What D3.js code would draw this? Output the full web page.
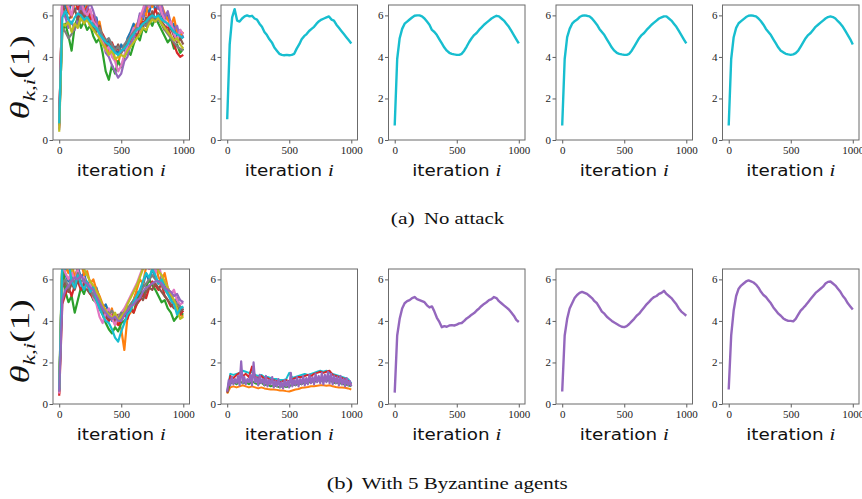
<!DOCTYPE html>
<html>
<head>
<meta charset="utf-8">
<script src="https://cdn.jsdelivr.net/npm/d3@7"></script>
<style>
body { margin: 0; background: #fff; }
svg { display: block; }
</style>
</head>
<body>
<div></div>
<script>
const WIDTH = 862;
const HEIGHT = 499;
const PANEL_LEFTS = [53, 221, 388.5, 556, 722.5];
const ROW_TOPS = [5, 269];
const PANEL_W = 136.5;
const PANEL_H = 135;
const X_DOMAIN = [-50, 1050];
const Y_DOMAIN = [0, 6.5];
const X_TICKS = [0, 500, 1000];
const Y_TICKS = [0, 2, 4, 6];
const CAPTIONS = [['(a)', 'No attack'], ['(b)', 'With 5 Byzantine agents']];
const COLORS = d3.schemeCategory10;

// iteration grids the values were read at
const iterFine = d3.range(0, 1001, 20);     // smooth panels
const iterCoarse = d3.range(0, 1001, 25);   // noisy panels
const iterDense = d3.range(0, 1001, 12.5);  // byzantine band

// (a) no attack, panel 1: ten agents, noisy
const a1Agents = [
  [0.8, 6.9, 6.4, 6.1, 6.7, 6.2, 6.5, 6.0, 6.6, 5.8,  6.2, 5.6, 5.9, 5.2, 5.0, 4.6, 4.8, 4.3, 4.5, 4.1,
   4.6, 4.3, 4.9, 5.2, 5.6, 5.3, 6.0, 5.8, 6.4, 6.1,  6.8, 6.2, 6.6, 6.0, 5.7, 6.1, 5.4, 5.6, 5.0, 5.3, 4.9],
  [0.6, 7.0, 6.8, 6.2, 5.9, 6.6, 6.9, 6.3, 6.2, 6.5,  5.9, 6.0, 5.4, 5.7, 4.9, 4.5, 4.2, 4.6, 3.9, 3.7,
   4.3, 4.4, 4.8, 4.6, 5.3, 5.6, 5.4, 6.2, 6.0, 6.8,  6.4, 6.9, 6.3, 6.5, 6.1, 5.8, 5.5, 5.9, 5.2, 5.0, 5.2],
  [0.9, 5.2, 5.6, 5.0, 4.3, 5.5, 5.9, 5.4, 5.7, 5.3,  5.5, 5.0, 4.7, 4.9, 4.2, 3.3, 2.9, 3.6, 3.2, 3.8,
   3.5, 4.0, 4.3, 4.1, 4.6, 5.0, 4.8, 5.4, 5.2, 5.8,  5.5, 5.9, 5.6, 5.3, 5.0, 4.7, 4.9, 4.4, 4.6, 4.2, 4.4],
  [0.7, 7.0, 6.6, 6.9, 6.5, 6.8, 6.3, 6.7, 6.1, 6.4,  5.8, 6.0, 5.6, 5.3, 5.1, 4.8, 4.5, 4.7, 4.3, 4.4,
   4.2, 4.5, 4.4, 4.9, 5.1, 5.0, 5.4, 5.7, 5.5, 6.1,  5.9, 6.3, 5.9, 5.6, 5.3, 5.5, 5.0, 4.6, 4.2, 4.0, 4.1],
  [0.5, 6.2, 5.9, 5.4, 5.7, 5.3, 5.8, 6.5, 6.0, 6.3,  6.6, 6.2, 5.7, 5.1, 4.8, 4.2, 4.0, 3.6, 3.3, 3.0,
   3.2, 3.8, 4.0, 4.6, 4.9, 5.4, 6.1, 5.9, 6.6, 6.4,  6.9, 6.7, 6.3, 6.5, 5.9, 6.2, 5.6, 5.3, 5.5, 4.9, 5.0],
  [0.8, 6.6, 6.1, 5.8, 6.0, 6.3, 5.8, 6.2, 5.9, 6.1,  5.6, 5.4, 5.2, 5.5, 4.9, 4.7, 4.4, 4.5, 4.3, 4.6,
   4.2, 4.5, 4.7, 4.9, 5.3, 5.1, 5.6, 5.4, 5.9, 5.6,  6.2, 5.8, 6.1, 5.7, 5.5, 5.2, 5.4, 5.0, 4.7, 4.9, 4.6],
  [0.6, 7.0, 6.9, 6.4, 6.0, 6.9, 6.5, 6.8, 6.2, 6.0,  6.3, 5.7, 5.5, 5.0, 4.7, 4.3, 4.5, 4.0, 3.8, 3.3,
   3.6, 4.1, 4.5, 5.0, 5.4, 5.2, 5.9, 6.3, 6.8, 6.4,  6.9, 6.5, 6.8, 6.1, 5.8, 5.5, 5.7, 5.1, 4.8, 5.3, 5.1],
  [0.7, 5.4, 5.2, 4.9, 5.1, 5.4, 5.6, 5.8, 5.7, 5.9,  5.5, 5.6, 5.3, 5.4, 5.0, 4.8, 4.9, 4.6, 4.3, 4.5,
   4.2, 4.6, 4.8, 5.0, 5.2, 5.4, 5.3, 5.6, 5.5, 5.8,  5.9, 5.7, 5.8, 5.6, 5.3, 5.1, 4.9, 4.7, 4.5, 4.4, 4.3],
  [0.4, 5.6, 5.5, 5.7, 5.2, 5.6, 5.4, 5.9, 5.6, 5.8,  5.5, 5.3, 5.1, 4.9, 4.6, 4.4, 4.1, 4.3, 3.9, 4.0,
   4.1, 4.0, 4.3, 4.5, 4.7, 4.9, 5.1, 5.4, 5.3, 5.6,  5.8, 5.7, 5.9, 5.6, 5.4, 5.2, 5.0, 4.8, 4.9, 4.6, 4.4],
  [0.8, 5.9, 6.2, 5.8, 5.6, 5.9, 6.1, 6.0, 5.8, 5.9,  5.7, 5.5, 5.4, 5.1, 4.9, 4.7, 4.6, 4.4, 4.2, 4.1,
   4.3, 4.4, 4.6, 4.9, 5.1, 5.3, 5.4, 5.6, 5.7, 5.9,  6.0, 5.9, 6.0, 5.8, 5.7, 5.6, 5.4, 5.2, 5.1, 5.0, 4.9]
];

// (a) panels 2-5: agents agree, one visible trajectory each
const a2Consensus = [1.0, 4.6, 5.9, 6.3, 5.75, 5.7, 5.85, 5.95, 6.0, 5.95,  5.98, 5.85, 5.8, 5.6, 5.45, 5.2, 5.05, 4.85, 4.7, 4.45,
  4.3, 4.15, 4.1, 4.08, 4.1, 4.08, 4.1, 4.15, 4.4, 4.6,  4.85, 5.0, 5.1, 5.25, 5.35, 5.45, 5.6, 5.72, 5.8, 5.85,
  5.9, 5.95, 5.8, 5.75, 5.55, 5.4, 5.25, 5.1, 4.95, 4.8,  4.65];
const a3Consensus = [0.7, 3.9, 4.9, 5.35, 5.6, 5.7, 5.8, 5.9, 5.98, 6.0,  6.0, 5.95, 5.85, 5.7, 5.55, 5.3, 5.2, 5.05, 4.85, 4.65,
  4.45, 4.3, 4.2, 4.15, 4.12, 4.1, 4.1, 4.15, 4.3, 4.5,  4.72, 4.9, 5.05, 5.15, 5.3, 5.42, 5.55, 5.65, 5.75, 5.85,
  5.92, 5.98, 5.95, 5.85, 5.75, 5.6, 5.45, 5.25, 5.05, 4.85,  4.65];
const a4Consensus = [0.7, 3.9, 4.95, 5.35, 5.6, 5.72, 5.8, 5.92, 5.98, 6.0,  5.98, 5.95, 5.85, 5.7, 5.55, 5.35, 5.2, 5.05, 4.85, 4.65,
  4.45, 4.3, 4.2, 4.15, 4.12, 4.1, 4.1, 4.15, 4.3, 4.5,  4.7, 4.9, 5.05, 5.15, 5.3, 5.42, 5.55, 5.65, 5.75, 5.85,
  5.9, 5.95, 5.95, 5.85, 5.75, 5.6, 5.45, 5.25, 5.05, 4.85,  4.65];
const a5Consensus = [0.7, 3.9, 4.95, 5.4, 5.62, 5.72, 5.82, 5.92, 5.98, 6.0,  5.98, 5.95, 5.85, 5.72, 5.55, 5.35, 5.2, 5.05, 4.85, 4.65,
  4.45, 4.3, 4.22, 4.15, 4.12, 4.1, 4.12, 4.18, 4.3, 4.5,  4.7, 4.9, 5.05, 5.15, 5.3, 5.45, 5.55, 5.65, 5.75, 5.85,
  5.92, 5.95, 5.92, 5.85, 5.72, 5.6, 5.45, 5.25, 5.05, 4.85,  4.6];

// (b) with byzantine agents, panel 1: ten agents, noisy
const b1Agents = [
  [0.6, 6.8, 6.2, 5.9, 6.4, 6.0, 6.6, 6.1, 6.3, 5.7,  5.9, 5.4, 5.6, 5.1, 4.6, 4.8, 4.4, 4.0, 4.3, 3.9,
   4.1, 4.5, 4.3, 4.8, 5.0, 5.4, 5.2, 5.7, 6.3, 5.9,  6.5, 6.1, 5.8, 6.2, 5.7, 5.5, 5.0, 4.8, 5.1, 4.6, 4.5],
  [0.5, 6.9, 6.6, 6.3, 6.8, 6.1, 6.5, 6.9, 6.2, 6.4,  5.8, 6.0, 5.5, 5.2, 4.8, 4.5, 4.2, 4.6, 3.8, 4.0,
   3.6, 2.6, 4.2, 4.4, 5.0, 5.5, 6.0, 5.8, 6.6, 6.9,  6.4, 6.8, 6.1, 5.9, 6.3, 5.6, 5.2, 5.0, 4.6, 4.3, 4.2],
  [0.9, 6.9, 5.4, 4.9, 5.2, 4.4, 5.0, 5.6, 5.3, 5.8,  5.4, 5.0, 4.9, 4.6, 4.3, 3.9, 3.6, 3.4, 3.7, 3.5,
   3.9, 4.0, 4.2, 4.6, 4.4, 5.0, 5.4, 5.2, 5.6, 6.0,  5.7, 5.5, 5.2, 4.9, 5.0, 4.6, 4.4, 4.0, 4.2, 4.4, 4.3],
  [0.4, 4.8, 5.3, 5.6, 5.2, 5.7, 5.9, 5.5, 5.8, 5.6,  5.3, 5.1, 4.9, 4.6, 4.4, 4.2, 4.0, 4.3, 4.1, 3.8,
   4.0, 4.3, 4.1, 4.6, 4.4, 4.8, 5.0, 5.3, 5.1, 5.6,  5.9, 5.7, 5.5, 5.8, 5.2, 5.0, 4.7, 4.9, 4.5, 4.3, 4.5],
  [0.6, 5.0, 5.5, 5.7, 5.9, 6.1, 6.0, 6.2, 5.9, 5.8,  5.6, 5.5, 5.2, 4.9, 4.6, 4.4, 4.2, 4.1, 4.2, 4.0,
   4.0, 4.3, 4.5, 4.7, 4.8, 5.0, 5.1, 5.4, 5.6, 5.7,  5.8, 5.9, 5.9, 5.8, 5.6, 5.5, 5.4, 5.2, 5.3, 5.0, 4.9],
  [0.7, 5.6, 5.9, 5.4, 5.8, 5.5, 6.0, 5.7, 5.9, 5.5,  5.3, 5.4, 5.0, 4.8, 4.5, 4.3, 4.1, 4.2, 4.0, 4.3,
   4.2, 4.5, 4.7, 4.6, 4.9, 4.8, 5.2, 5.0, 5.4, 5.6,  5.5, 5.8, 5.6, 5.4, 5.2, 5.0, 4.8, 4.6, 4.7, 4.4, 4.6],
  [0.5, 6.7, 6.3, 6.0, 6.4, 5.9, 6.5, 5.7, 6.1, 5.6,  5.8, 5.1, 4.8, 4.2, 3.9, 4.4, 4.6, 4.1, 3.8, 4.2,
   4.4, 4.6, 4.9, 5.2, 5.5, 5.8, 6.2, 6.6, 6.9, 6.5,  6.7, 6.3, 6.8, 6.1, 5.9, 5.6, 5.3, 5.5, 5.0, 4.8, 4.9],
  [0.6, 5.8, 6.0, 5.6, 6.1, 5.8, 6.3, 5.9, 6.0, 5.7,  5.5, 5.2, 5.0, 4.7, 4.5, 4.4, 4.3, 4.5, 4.2, 4.1,
   4.4, 4.3, 4.6, 4.8, 5.0, 5.2, 5.4, 5.6, 5.8, 6.0,  6.2, 6.0, 5.9, 5.7, 5.5, 5.3, 5.1, 5.0, 4.8, 4.7, 4.6],
  [0.8, 7.0, 6.7, 6.9, 6.4, 6.8, 6.6, 7.0, 6.5, 6.2,  5.9, 5.7, 5.4, 5.1, 4.7, 4.5, 4.3, 4.1, 4.4, 4.0,
   4.2, 4.4, 4.8, 5.1, 5.4, 5.7, 6.1, 6.5, 6.9, 6.6,  7.0, 6.8, 6.4, 6.2, 5.9, 5.6, 5.3, 5.0, 4.6, 4.1, 4.2],
  [0.7, 6.8, 6.5, 6.9, 5.9, 5.6, 6.2, 5.8, 5.5, 5.9,  5.4, 5.6, 5.0, 4.6, 4.3, 4.0, 3.9, 3.6, 3.2, 3.0,
   3.5, 3.9, 4.3, 4.5, 4.9, 5.2, 5.5, 5.9, 6.3, 6.1,  6.5, 6.2, 5.8, 6.0, 5.6, 5.3, 5.0, 4.8, 4.3, 4.6, 4.7]
];

// (b) panel 2: agents pulled down to a band near 1
const b2Orange = [0.5, 0.8, 0.85, 0.8, 0.85, 0.9, 0.85, 0.8, 0.85, 0.8,  0.75, 0.8, 0.75, 0.72, 0.7, 0.7, 0.68, 0.65, 0.65, 0.62,
  0.6, 0.65, 0.7, 0.72, 0.78, 0.8, 0.82, 0.85, 0.85, 0.88,  0.9, 0.9, 0.88, 0.9, 0.85, 0.82, 0.8, 0.8, 0.78, 0.75, 0.7];
const b2Green = [0.55, 1.0, 1.05, 0.95, 1.1, 1.0, 1.05, 0.95, 1.1, 1.0,  0.95, 1.05, 0.9, 0.95, 0.85, 0.9, 0.85, 0.8, 0.88, 0.82,
  0.85, 0.95, 0.9, 1.0, 0.95, 1.05, 1.0, 1.1, 1.05, 1.15,  1.1, 1.15, 1.1, 1.15, 1.05, 1.0, 1.05, 0.95, 0.95, 0.9, 0.85];
const b2Cyan = [0.6, 1.45, 1.4, 1.45, 1.5, 1.6, 1.55, 1.5, 1.55, 1.4,  1.35, 1.4, 1.3, 1.3, 1.25, 1.2, 1.2, 1.15, 1.15, 1.2,
  1.5, 1.25, 1.3, 1.35, 1.4, 1.45, 1.4, 1.45, 1.5, 1.55,  1.6, 1.55, 1.6, 1.5, 1.45, 1.4, 1.35, 1.3, 1.25, 1.2, 1.0];
const b2Red = [0.55, 1.35, 1.25, 1.4, 1.5, 1.35, 1.45, 1.3, 1.8, 1.3,  1.25, 1.35, 1.2, 1.25, 1.15, 1.15, 1.1, 1.05, 1.1, 1.15,
  1.1, 1.2, 1.25, 1.3, 1.3, 1.35, 1.4, 1.35, 1.45, 1.5,  1.55, 1.5, 1.55, 1.6, 1.4, 1.35, 1.3, 1.25, 1.2, 1.1, 0.95];
const b2Purple = [0.6, 1.15, 0.9, 1.3, 0.95, 1.2, 1.0, 1.35, 0.9, 2.05,  1.0, 1.3, 0.95, 1.2, 1.05, 1.4, 0.9, 2.0, 1.05, 1.25,
  0.9, 1.4, 1.0, 1.2, 0.9, 1.35, 0.85, 1.15, 0.95, 1.3,  0.8, 1.1, 0.85, 1.2, 0.8, 1.05, 0.75, 1.15, 0.85, 1.1,
  0.8, 1.5, 0.85, 1.15, 0.9, 1.3, 0.85, 1.2, 0.95, 1.35,  0.9, 1.25, 0.95, 1.4, 1.0, 1.3, 0.95, 1.45, 1.05, 1.35,
  1.0, 1.5, 0.95, 1.4, 1.05, 1.55, 1.0, 1.45, 0.95, 1.35,  1.0, 1.3, 0.9, 1.35, 0.95, 1.2, 0.85, 1.25, 0.9, 1.1,  0.85];

// (b) panels 3-5: honest agents agree
const b3Consensus = [0.55, 3.3, 4.1, 4.6, 4.85, 4.95, 5.0, 5.1, 5.15, 5.05,  5.0, 4.95, 4.9, 4.75, 4.65, 4.7, 4.45, 4.15, 3.95, 3.7,
  3.75, 3.72, 3.78, 3.8, 3.78, 3.82, 3.88, 3.9, 4.0, 4.12,  4.2, 4.3, 4.38, 4.5, 4.6, 4.72, 4.82, 4.9, 5.0, 5.05,
  5.15, 5.1, 4.95, 4.85, 4.75, 4.65, 4.55, 4.4, 4.25, 4.05,  3.95];
const b4Consensus = [0.6, 3.3, 4.1, 4.6, 4.85, 5.1, 5.25, 5.35, 5.4, 5.35,  5.3, 5.2, 5.1, 4.95, 4.85, 4.65, 4.45, 4.35, 4.2, 4.1,
  4.0, 3.92, 3.85, 3.78, 3.72, 3.7, 3.75, 3.85, 3.98, 4.1,  4.25, 4.35, 4.5, 4.65, 4.8, 4.92, 5.05, 5.15, 5.2, 5.3,
  5.35, 5.45, 5.3, 5.2, 5.1, 4.95, 4.8, 4.6, 4.45, 4.35,  4.25];
const b5Consensus = [0.7, 3.3, 4.5, 5.2, 5.55, 5.7, 5.8, 5.9, 5.95, 5.9,  5.85, 5.75, 5.6, 5.4, 5.25, 5.15, 5.0, 4.85, 4.65, 4.5,
  4.35, 4.25, 4.12, 4.05, 4.0, 4.0, 3.98, 4.1, 4.3, 4.5,  4.62, 4.75, 4.9, 5.05, 5.2, 5.35, 5.45, 5.55, 5.65, 5.8,
  5.88, 5.9, 5.8, 5.7, 5.55, 5.4, 5.2, 5.05, 4.85, 4.7,  4.55];

// panel table: which series go where (drawn in order, last on top)
const NOISY_W = 2.2, SMOOTH_W = 2.4;
const noisyA = a1Agents.map((ys, k) => ({ xs: iterCoarse, ys: ys, color: COLORS[k], w: NOISY_W }));
const noisyBOrder = [0, 1, 2, 3, 5, 6, 7, 8, 9, 4]; // purple ends on top
const noisyB = noisyBOrder.map(k => ({ xs: iterCoarse, ys: b1Agents[k], color: COLORS[k], w: NOISY_W }));
const panels = [
  { row: 0, col: 0, series: noisyA },
  { row: 0, col: 1, series: [{ xs: iterFine, ys: a2Consensus, color: COLORS[9], w: SMOOTH_W }] },
  { row: 0, col: 2, series: [{ xs: iterFine, ys: a3Consensus, color: COLORS[9], w: SMOOTH_W }] },
  { row: 0, col: 3, series: [{ xs: iterFine, ys: a4Consensus, color: COLORS[9], w: SMOOTH_W }] },
  { row: 0, col: 4, series: [{ xs: iterFine, ys: a5Consensus, color: COLORS[9], w: SMOOTH_W }] },
  { row: 1, col: 0, series: noisyB },
  { row: 1, col: 1, series: [
      { xs: iterCoarse, ys: b2Orange, color: COLORS[1], w: 2 },
      { xs: iterCoarse, ys: b2Green, color: COLORS[2], w: 2 },
      { xs: iterCoarse, ys: b2Cyan, color: COLORS[9], w: 2 },
      { xs: iterCoarse, ys: b2Red, color: COLORS[3], w: 2 },
      { xs: iterDense, ys: b2Purple, color: COLORS[4], w: 2.2 }] },
  { row: 1, col: 2, series: [{ xs: iterFine, ys: b3Consensus, color: COLORS[4], w: SMOOTH_W }] },
  { row: 1, col: 3, series: [{ xs: iterFine, ys: b4Consensus, color: COLORS[4], w: SMOOTH_W }] },
  { row: 1, col: 4, series: [{ xs: iterFine, ys: b5Consensus, color: COLORS[4], w: SMOOTH_W }] }
];

const svg = d3.select('div').append('svg')
    .attr('width', WIDTH)
    .attr('height', HEIGHT)
    .attr('viewBox', '0 0 ' + WIDTH + ' ' + HEIGHT);

const x = d3.scaleLinear().domain(X_DOMAIN).range([0, PANEL_W]);
const y = d3.scaleLinear().domain(Y_DOMAIN).range([PANEL_H, 0]);

panels.forEach(p => {
    const g = svg.append('g')
        .attr('transform', 'translate(' + PANEL_LEFTS[p.col] + ',' + ROW_TOPS[p.row] + ')');
    const clipId = 'clip-' + p.row + '-' + p.col;
    g.append('clipPath').attr('id', clipId)
        .append('rect').attr('width', PANEL_W).attr('height', PANEL_H);

    // agent trajectories
    const lines = g.append('g').attr('clip-path', 'url(#' + clipId + ')');
    p.series.forEach(s => {
        const line = d3.line().x((d, i) => x(s.xs[i])).y(d => y(d));
        lines.append('path')
            .attr('d', line(s.ys))
            .attr('fill', 'none')
            .attr('stroke', s.color)
            .attr('stroke-width', s.w)
            .attr('stroke-linejoin', 'round');
    });

    // axes
    const xAxis = g.append('g')
        .attr('transform', 'translate(0,' + PANEL_H + ')')
        .call(d3.axisBottom(x).tickValues(X_TICKS).tickFormat(d3.format('d')).tickSize(3.5).tickPadding(3));
    const yAxis = g.append('g')
        .call(d3.axisLeft(y).tickValues(Y_TICKS).tickFormat(d3.format('d')).tickSize(3.5).tickPadding(1.5));
    [xAxis, yAxis].forEach(a => {
        a.select('.domain').remove();
        a.selectAll('line').attr('stroke', '#333').attr('stroke-width', 0.8);
        a.selectAll('text')
            .attr('fill', '#222')
            .style('font-family', '"Liberation Serif", serif')
            .style('font-size', '11px');
    });

    // frame
    g.append('rect')
        .attr('width', PANEL_W)
        .attr('height', PANEL_H)
        .attr('fill', 'none')
        .attr('stroke', '#6b6b6b')
        .attr('stroke-width', 1);

    // x label
    const xl = g.append('text')
        .attr('x', PANEL_W / 2)
        .attr('y', PANEL_H + 36)
        .attr('text-anchor', 'middle')
        .attr('textLength', 89)
        .attr('lengthAdjust', 'spacingAndGlyphs')
        .attr('fill', '#111');
    xl.append('tspan')
        .style('font-family', '"DejaVu Sans", sans-serif')
        .style('font-size', '15px')
        .text('iteration ');
    xl.append('tspan')
        .style('font-family', '"Liberation Serif", serif')
        .style('font-style', 'italic')
        .style('font-size', '17px')
        .text('i');

    // y label on the first column
    if (p.col === 0) {
        const yl = g.append('text')
            .attr('transform', 'translate(-24,' + (PANEL_H / 2 + 5) + ') rotate(-90)')
            .attr('text-anchor', 'middle')
            .attr('textLength', 84)
            .attr('lengthAdjust', 'spacingAndGlyphs')
            .attr('fill', '#111')
            .style('font-family', '"Liberation Serif", serif');
        yl.append('tspan').style('font-style', 'italic').style('font-size', '27px').text('θ');
        yl.append('tspan').style('font-style', 'italic').style('font-size', '17px').attr('dy', 6).text('k,i');
        yl.append('tspan').style('font-size', '27px').attr('dy', -6).text('(1)');
    }
});

// sub-figure captions
const CAPTION_BASE = [224, 489];
const CAPTION_POS = [[390.7, 24, 424, 80], [326.7, 26.5, 361.7, 206]];
CAPTIONS.forEach((c, r) => {
    const pos = CAPTION_POS[r];
    [[c[0], pos[0], pos[1]], [c[1], pos[2], pos[3]]].forEach(t => {
        svg.append('text')
            .attr('x', t[1])
            .attr('y', CAPTION_BASE[r])
            .attr('textLength', t[2])
            .attr('lengthAdjust', 'spacingAndGlyphs')
            .attr('fill', '#111')
            .style('font-family', '"Liberation Serif", "Times New Roman", serif')
            .style('font-size', '17.5px')
            .text(t[0]);
    });
});
</script>
</body>
</html>
